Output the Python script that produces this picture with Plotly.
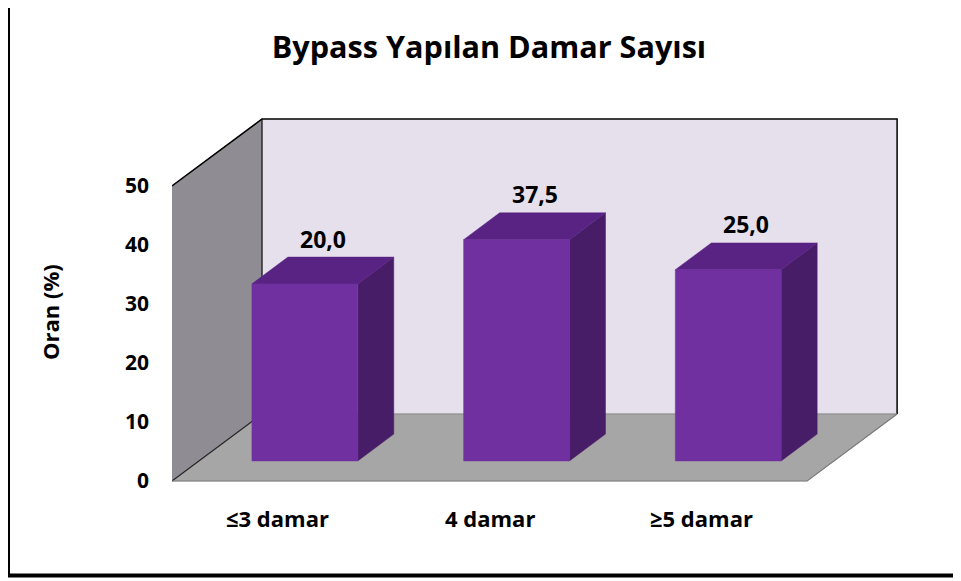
import plotly.graph_objects as go

# ---- data ----
categories = ["≤3 damar", "4 damar", "≥5 damar"]
bar_heights = [30.0, 37.5, 32.4]          # heights as drawn in the picture
label_texts = ["20,0", "37,5", "25,0"]    # data labels as printed
y_ticks = [0, 10, 20, 30, 40, 50]
title_text = "Bypass Yapılan Damar Sayısı"
y_title = "Oran (%)"

# ---- layout geometry (pixels) ----
OFF = 8                    # page body margin
W, H = 961, 581
L, T, B = 172 - OFF, 112 - OFF, 102
px_per_x = 211.7          # one category slot
px_per_y = 5.9            # one percent
plot_w = 731
R = W - L - plot_w
plot_h = H - T - B
x_lo = -0.5
x_hi = x_lo + plot_w / px_per_x
y_lo = -((H - B) - (481 - OFF)) / px_per_y
y_hi = y_lo + plot_h / px_per_y

# oblique depth offsets (data units)
DX = 90 / px_per_x
DY = 67 / px_per_y
Z0, Z1 = 0.3, 0.7         # bar front / back depth
BW = 0.5                  # bar width
WALL_TOP = 50

FONT = "Open Sans"

fig = go.Figure()


def poly(xs, ys, fill):
    fig.add_trace(go.Scatter(
        x=list(xs) + [xs[0]], y=list(ys) + [ys[0]], mode="lines",
        fill="toself", fillcolor=fill, line=dict(color=fill, width=0.5),
        hoverinfo="skip", showlegend=False))


def seg(xs, ys, color, width=1.2):
    fig.add_trace(go.Scatter(x=xs, y=ys, mode="lines",
                             line=dict(color=color, width=width),
                             hoverinfo="skip", showlegend=False))


n = len(categories)
xl, xr = x_lo, x_lo + n
# side wall
poly([xl, xl, xl + DX, xl + DX], [0, WALL_TOP, WALL_TOP + DY, DY], "#8f8d93")
# back wall
poly([xl + DX, xr + DX, xr + DX, xl + DX],
     [DY, DY, WALL_TOP + DY, WALL_TOP + DY], "#e6e0ec")
# floor
poly([xl, xr, xr + DX, xl + DX], [0, 0, DY, DY], "#a6a6a6")

# edges
seg([xl, xl + DX, xr + DX, xr + DX], [WALL_TOP, WALL_TOP + DY, WALL_TOP + DY, DY], "#000000", 1.5)
seg([xl + DX, xl + DX], [WALL_TOP + DY, DY], "#000000", 1.2)
seg([xl, xl + DX], [0, DY], "#222222", 1.2)
seg([xl + DX, xr + DX], [DY, DY], "#8a8a8a", 1.2)
seg([xl, xr, xr + DX], [0, 0, DY], "#7a7a7a", 1.2)

# bars
for i, v in enumerate(bar_heights):
    fx0 = i - BW / 2 + Z0 * DX
    fx1 = i + BW / 2 + Z0 * DX
    fy0 = Z0 * DY
    bx1 = i + BW / 2 + Z1 * DX
    bx0 = i - BW / 2 + Z1 * DX
    by0 = Z1 * DY
    poly([fx1, bx1, bx1, fx1], [fy0, by0, v + by0, v + fy0], "#481d68")   # side
    poly([fx0, fx1, bx1, bx0], [v + fy0, v + fy0, v + by0, v + by0], "#582383")  # top
    poly([fx0, fx1, fx1, fx0], [fy0, fy0, v + fy0, v + fy0], "#7030a0")   # front

cat_font = dict(family=FONT, size=22, color="#000000", weight="bold")
val_font = dict(family=FONT, size=23, color="#000000", weight="bold")
annotations = []
for i, (v, t) in enumerate(zip(bar_heights, label_texts)):
    zc = (Z0 + Z1) / 2
    annotations.append(dict(x=i + zc * DX, y=v + zc * DY, text=t, showarrow=False,
                            yshift=32, yanchor="middle", xanchor="center", font=val_font))
for i, c in enumerate(categories):
    annotations.append(dict(x=i, y=0, text=c, showarrow=False, yshift=-37,
                            yanchor="middle", xanchor="center", font=cat_font))


def pxx(p):
    return (p - OFF - L) / plot_w


def pxy(p):
    return ((H - B) - (p - OFF)) / plot_h


annotations.append(dict(xref="paper", yref="paper",
                        x=pxx(50), y=pxy(312),
                        text=y_title, textangle=-90, showarrow=False,
                        xanchor="center", yanchor="middle",
                        font=dict(family=FONT, size=22, color="#000000", weight="bold")))

shapes = [
    dict(type="rect", xref="paper", yref="paper", x0=pxx(8), x1=pxx(959), y0=pxy(576), y1=pxy(1.5),
         line=dict(color="#9a9a9a", width=1.5), layer="below"),
    dict(type="line", xref="paper", yref="paper", x0=pxx(8), x1=pxx(8), y0=pxy(577), y1=pxy(1),
         line=dict(color="#000000", width=4)),
    dict(type="line", xref="paper", yref="paper", x0=pxx(6), x1=pxx(961), y0=pxy(575.5), y1=pxy(575.5),
         line=dict(color="#000000", width=4)),
]

fig.update_layout(
    width=W, height=H,
    margin=dict(l=L, r=R, t=T, b=B),
    paper_bgcolor="#ffffff", plot_bgcolor="rgba(0,0,0,0)",
    title=dict(text=title_text, x=(489 - OFF) / W, y=1 - (47 - OFF) / H,
               xref="container", yref="container", xanchor="center", yanchor="middle",
               font=dict(family=FONT, size=30.6, color="#000000", weight="bold")),
    xaxis=dict(range=[x_lo, x_hi], visible=False, fixedrange=True),
    yaxis=dict(range=[y_lo, y_hi], tickvals=y_ticks, ticktext=[str(t) for t in y_ticks],
               showgrid=False, zeroline=False, showline=False, ticks="",
               ticklabelstandoff=22,
               tickfont=dict(family=FONT, size=21, color="#000000", weight="bold"),
               fixedrange=True),
    annotations=annotations,
    shapes=shapes,
    showlegend=False,
)

fig.write_html("out.html")
